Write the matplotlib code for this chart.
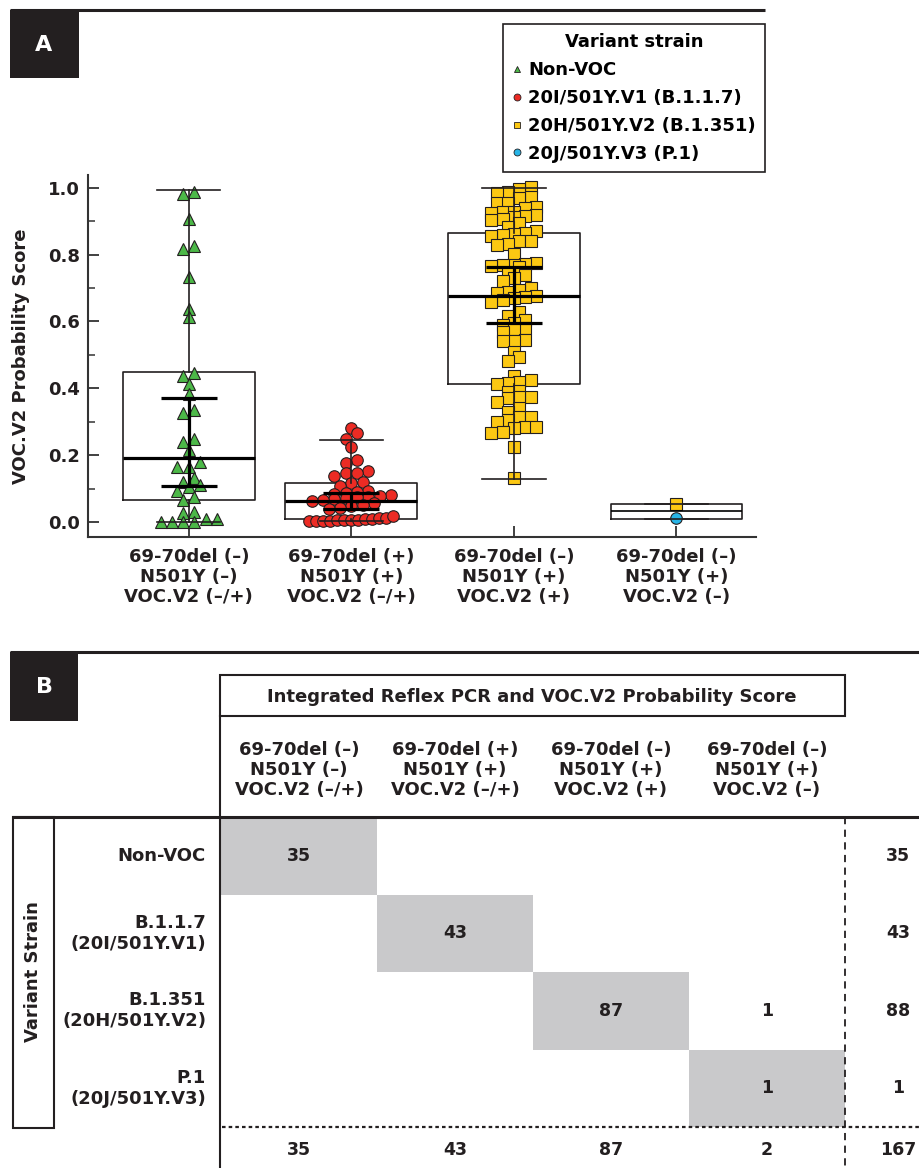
import numpy as np
import matplotlib
matplotlib.use('Agg')
import matplotlib.pyplot as plt
from matplotlib.lines import Line2D
from matplotlib.patches import Rectangle

plt.rcParams['font.family'] = ['DejaVu Sans']
plt.rcParams['font.weight'] = 'bold'
plt.rcParams['axes.labelweight'] = 'bold'

# ---- panel A data (VOC.V2 probability scores) ----
categories = ['69-70del (–)\nN501Y (–)\nVOC.V2 (–/+)',
              '69-70del (+)\nN501Y (+)\nVOC.V2 (–/+)',
              '69-70del (–)\nN501Y (+)\nVOC.V2 (+)',
              '69-70del (–)\nN501Y (+)\nVOC.V2 (–)']

nonvoc_scores = [0.988, 0.981, 0.905, 0.826, 0.816, 0.732, 0.636, 0.612, 0.447, 0.437,
                 0.413, 0.383, 0.335, 0.325, 0.247, 0.240, 0.215, 0.180, 0.165, 0.164,
                 0.131, 0.121, 0.111, 0.106, 0.094, 0.076, 0.066, 0.031, 0.026, 0.009,
                 0.009, 0.001, 0.001, 0.000, 0.000]
b117_scores = [0.280, 0.265, 0.247, 0.225, 0.185, 0.177, 0.153, 0.146, 0.146, 0.138,
               0.121, 0.116, 0.108, 0.094, 0.091, 0.088, 0.085, 0.081, 0.079, 0.076,
               0.074, 0.071, 0.069, 0.066, 0.063, 0.058, 0.052, 0.047, 0.043, 0.040,
               0.002, 0.003, 0.003, 0.004, 0.005, 0.005, 0.006, 0.007, 0.008, 0.009,
               0.011, 0.013, 0.017]
b1351_scores = [1.003, 0.995, 0.986, 0.983, 0.971, 0.968, 0.955, 0.955, 0.943, 0.938,
                0.928, 0.928, 0.923, 0.918, 0.915, 0.913, 0.905, 0.903, 0.895, 0.881,
                0.870, 0.865, 0.861, 0.858, 0.855, 0.841, 0.841, 0.833, 0.829, 0.802,
                0.775, 0.772, 0.770, 0.768, 0.766, 0.762, 0.745, 0.739, 0.729, 0.722,
                0.701, 0.695, 0.689, 0.685, 0.676, 0.674, 0.669, 0.664, 0.659, 0.629,
                0.617, 0.604, 0.596, 0.590, 0.579, 0.576, 0.569, 0.544, 0.542, 0.540,
                0.508, 0.493, 0.482, 0.437, 0.425, 0.420, 0.417, 0.412, 0.393, 0.390,
                0.375, 0.373, 0.370, 0.360, 0.340, 0.328, 0.315, 0.315, 0.305, 0.300,
                0.285, 0.285, 0.280, 0.270, 0.267, 0.223, 0.131]
b1351_neg_scores = [0.054]
p1_scores = [0.011]

# box summaries
box_q1 = [0.067, 0.010, 0.414, 0.009]
box_med = [0.190, 0.064, 0.676, 0.033]
box_q3 = [0.448, 0.116, 0.864, 0.054]
whisk_lo = [0.000, 0.002, 0.130, 0.009]
whisk_hi = [0.992, 0.245, 1.000, 0.054]
ci_lo = [0.109, 0.040, 0.594]
ci_hi = [0.370, 0.086, 0.764]

strain_names = ['Non-VOC', '20I/501Y.V1 (B.1.1.7)', '20H/501Y.V2 (B.1.351)', '20J/501Y.V3 (P.1)']
strain_colors = ['#4cb848', '#ec2b24', '#fcc813', '#27b4e6']
strain_markers = ['^', 'o', 's', 'o']

# ---- panel B data ----
row_labels = ['Non-VOC', 'B.1.1.7\n(20I/501Y.V1)', 'B.1.351\n(20H/501Y.V2)', 'P.1\n(20J/501Y.V3)']
counts = np.array([[35, 0, 0, 0],
                   [0, 43, 0, 0],
                   [0, 0, 87, 1],
                   [0, 0, 0, 1]])

W, H = 919, 1168
INK = '#231f20'
FS = 13
fig = plt.figure(figsize=(W / 100, H / 100), dpi=100)

ov = fig.add_axes([0, 0, 1, 1], zorder=0)
ov.set_xlim(0, W)
ov.set_ylim(H, 0)
ov.axis('off')

# ---------------- panel A ----------------
ax_l, ax_r, ax_t, ax_b = 88, 756, 175, 537
ax = fig.add_axes([ax_l / W, 1 - ax_b / H, (ax_r - ax_l) / W, (ax_b - ax_t) / H], zorder=1)
ax.patch.set_alpha(0)
xlo, xhi = -0.62, 3.49
ax.set_xlim(xlo, xhi)
ax.set_ylim(-0.045, 1.038)
px_per_x = (ax_r - ax_l) / (xhi - xlo)


def swarm(vals, row_h=0.02, step=11.3, max_w=84):
    vals = np.asarray(vals, float)
    order = np.argsort(vals, kind='stable')
    rows = []
    for i in order:
        if rows and vals[i] - vals[rows[-1][0]] < row_h:
            rows[-1].append(i)
        else:
            rows.append([i])
    off = np.zeros(len(vals))
    for r in rows:
        n = len(r)
        w = step if n < 2 else min(step, max_w / (n - 1))
        for k, i in enumerate(r):
            off[i] = (k - (n - 1) / 2) * w
    return off / px_per_x


groups = [(0, nonvoc_scores, 0), (1, b117_scores, 1), (2, b1351_scores, 2),
          (3, b1351_neg_scores, 2), (3, p1_scores, 3)]
for pos, vals, s in groups:
    ax.plot(pos + swarm(vals), vals, ls='none', marker=strain_markers[s], ms=8.3,
            mfc=strain_colors[s], mec=INK, mew=0.8, zorder=3)

stats = [dict(med=m, q1=a, q3=b, whislo=lo, whishi=hi, fliers=[])
         for m, a, b, lo, hi in zip(box_med, box_q1, box_q3, whisk_lo, whisk_hi)]
bp = ax.bxp(stats, positions=[0, 1, 2, 3], widths=0.81, capwidths=0.39,
            showfliers=False, manage_ticks=False,
            boxprops=dict(color=INK, lw=1.2, zorder=2),
            whiskerprops=dict(color=INK, lw=1.2, zorder=4),
            capprops=dict(color=INK, lw=1.2, zorder=4),
            medianprops=dict(color='black', lw=2.3, zorder=5))
bp['medians'][3].set_linewidth(1.2)

med3 = np.array(box_med[:3])
ax.errorbar([0, 1, 2], med3, yerr=[med3 - np.array(ci_lo), np.array(ci_hi) - med3],
            fmt='none', ecolor='black', elinewidth=2.3, capsize=20.5, capthick=2.3, zorder=6)

for sp in ['top', 'right']:
    ax.spines[sp].set_visible(False)
for sp in ['left', 'bottom']:
    ax.spines[sp].set_linewidth(1.5)
    ax.spines[sp].set_color('#333333')

ax.set_yticks(np.arange(0, 1.01, 0.2))
ax.set_yticks(np.arange(0.1, 1.0, 0.2), minor=True)
ax.set_yticklabels([f'{v:.1f}' for v in np.arange(0, 1.01, 0.2)])
ax.set_xticks([0, 1, 2, 3])
ax.set_xticklabels(categories, linespacing=1.15)
ax.tick_params(axis='both', which='major', direction='in', length=8, width=1.3,
               color='#333333', labelsize=FS, labelcolor=INK)
ax.tick_params(axis='y', which='minor', direction='in', length=5, width=1.1, color='#333333')
ax.tick_params(axis='y', pad=6)
ax.tick_params(axis='x', pad=8)
ax.set_ylabel('VOC.V2 Probability Score', fontsize=FS, color=INK, fontweight='bold')
ax.yaxis.set_label_coords(-0.087, 0.5)

handles = [Line2D([], [], ls='none', marker=m, ms=5, mfc=c, mec=INK, mew=0.6)
           for m, c in zip(strain_markers, strain_colors)]
leg = fig.legend(handles, strain_names, title='Variant strain', loc='upper left',
                 bbox_to_anchor=(503 / W, 1 - 24 / H), bbox_transform=fig.transFigure,
                 prop=dict(weight='bold', size=FS), title_fontproperties=dict(weight='bold', size=FS),
                 frameon=True, fancybox=False, framealpha=1, edgecolor=INK,
                 handlelength=0.6, handletextpad=0.3, labelspacing=0.55, borderpad=0.5,
                 borderaxespad=0)
leg.get_frame().set_linewidth(1.2)

# panel A header
ov.plot([10, 765], [9.5, 9.5], color=INK, lw=2.2, solid_capstyle='butt')
ov.add_patch(Rectangle((10, 10), 69, 68, fc=INK, ec='none'))
ov.text(44, 45, 'A', color='white', fontsize=16, ha='center', va='center')

# ---------------- panel B ----------------
ov.plot([10, W], [652, 652], color=INK, lw=2.2, solid_capstyle='butt')
ov.add_patch(Rectangle((10, 652), 68, 69, fc=INK, ec='none'))
ov.text(44, 687, 'B', color='white', fontsize=16, ha='center', va='center')

ov.add_patch(Rectangle((220, 675), 625, 41, fill=False, ec=INK, lw=1.5))
ov.text(532, 697, 'Integrated Reflex PCR and VOC.V2 Probability Score', fontsize=FS,
        ha='center', va='center', color=INK)
ov.plot([220, 220], [716, H], color=INK, lw=1.5)

x0, cw, y0, rh = 221, 156, 817, 77.5
n_rows, n_cols = counts.shape
for j, lab in enumerate(categories):
    ov.text(x0 + cw * (j + 0.5), 770, lab, fontsize=FS, ha='center', va='center',
            linespacing=1.15, color=INK)

ov.plot([12, W], [y0, y0], color=INK, lw=2.2, solid_capstyle='butt')
ov.add_patch(Rectangle((13, y0), 41, 311, fill=False, ec=INK, lw=1.5))
ov.text(33, 972, 'Variant Strain', rotation=90, fontsize=FS, ha='center', va='center', color=INK)

for i in range(min(n_rows, n_cols)):
    ov.add_patch(Rectangle((x0 + cw * i, y0 + rh * i), cw, rh, fc='#c9c9cb', ec='none', zorder=0))

NUM_FS = 12.5
tot_x = 898
for i, lab in enumerate(row_labels):
    ov.text(206, y0 + rh * (i + 0.5), lab, fontsize=FS, ha='right', va='center',
            linespacing=1.2, color=INK)
    for j in range(n_cols):
        if counts[i, j]:
            ov.text(x0 + cw * (j + 0.5), y0 + rh * (i + 0.5), str(counts[i, j]), fontsize=NUM_FS,
                    ha='center', va='center', color=INK)
    ov.text(tot_x, y0 + rh * (i + 0.5), str(counts[i].sum()), fontsize=NUM_FS,
            ha='center', va='center', color=INK)

col_tot = counts.sum(axis=0)
for j in range(n_cols):
    ov.text(x0 + cw * (j + 0.5), 1150, str(col_tot[j]), fontsize=NUM_FS, ha='center', va='center', color=INK)
ov.text(tot_x, 1150, str(counts.sum()), fontsize=NUM_FS, ha='center', va='center', color=INK)

ov.plot([845, 845], [y0, H], color=INK, lw=1.3, dashes=(4, 3))
ov.plot([222, W], [1127, 1127], color=INK, lw=1.6, dashes=(1.6, 1.4))

fig.savefig('out.png', dpi=100)
